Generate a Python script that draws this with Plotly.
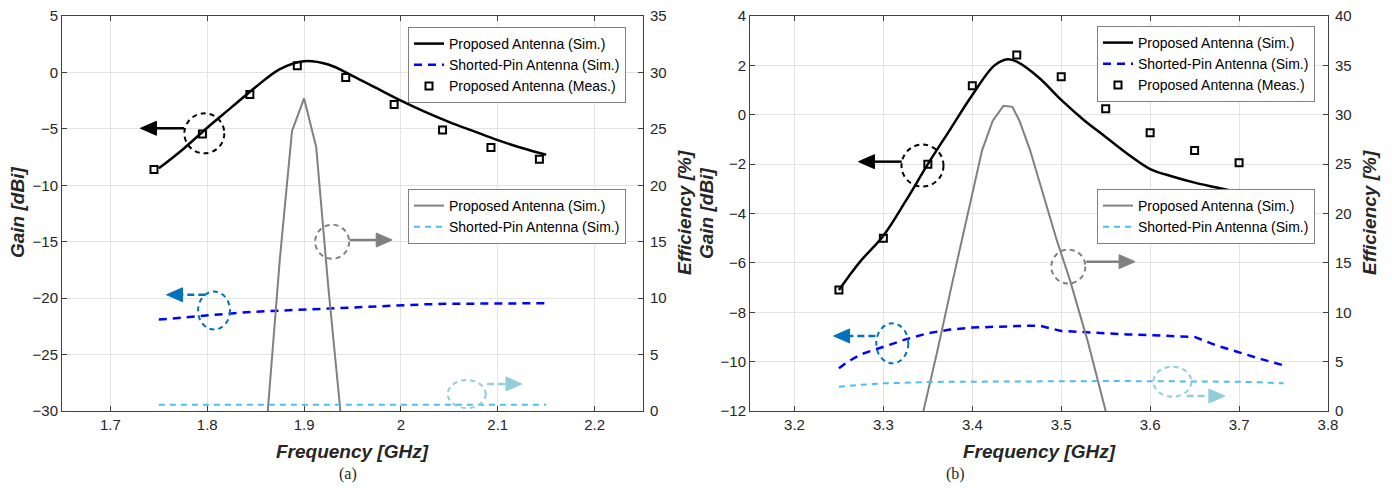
import plotly.graph_objects as go

# ---------------- data: panel (a) ----------------
a_freq_sim = [1.75, 1.775, 1.8, 1.825, 1.85, 1.875, 1.9, 1.925, 1.95, 1.975, 2.0,
              2.025, 2.05, 2.075, 2.1, 2.125, 2.15]
a_gain_prop_sim = [-8.5, -6.8, -4.9, -3.1, -1.3, 0.3, 1.0, 0.7, -0.3, -1.4, -2.5,
                   -3.5, -4.4, -5.2, -6.0, -6.7, -7.3]
a_gain_pin_sim = [-21.9, -21.7, -21.5, -21.35, -21.2, -21.1, -21.0, -20.9, -20.8, -20.7, -20.6,
                  -20.55, -20.5, -20.5, -20.45, -20.45, -20.45]
a_freq_meas = [1.745, 1.795, 1.844, 1.893, 1.943, 1.993, 2.043, 2.093, 2.143]
a_gain_meas = [-8.6, -5.45, -1.95, 0.6, -0.45, -2.85, -5.1, -6.65, -7.7]
a_freq_eff_prop = [1.8625, 1.875, 1.8875, 1.9, 1.9125, 1.925, 1.9375]
a_eff_prop = [0.0, 13.5, 24.8, 27.7, 23.4, 11.0, 0.0]
a_eff_pin = [0.55] * len(a_freq_sim)

# ---------------- data: panel (b) ----------------
b_freq_sim = [3.25, 3.26, 3.275, 3.3, 3.325, 3.35, 3.375, 3.4, 3.425, 3.44, 3.45, 3.475,
              3.5, 3.525, 3.55, 3.575, 3.6, 3.625, 3.65, 3.675, 3.7, 3.725, 3.75]
b_gain_prop_sim = [-7.1, -6.6, -5.9, -4.9, -3.5, -2.0, -0.6, 0.8, 2.0, 2.25, 2.15, 1.5,
                   0.6, -0.2, -0.9, -1.6, -2.2, -2.5, -2.75, -2.95, -3.15, -3.35, -3.5]
b_gain_pin_sim = [-10.27, -10.0, -9.7, -9.4, -9.1, -8.85, -8.7, -8.62, -8.58, -8.57, -8.56, -8.54,
                  -8.76, -8.8, -8.86, -8.9, -8.93, -8.95, -9.0, -9.35, -9.64, -9.9, -10.15]
b_freq_meas = [3.25, 3.3, 3.35, 3.4, 3.45, 3.5, 3.55, 3.6, 3.65, 3.7]
b_gain_meas = [-7.1, -5.0, -2.0, 1.17, 2.42, 1.54, 0.24, -0.73, -1.45, -1.94]
b_freq_eff_prop = [3.345, 3.36, 3.378, 3.395, 3.411, 3.423, 3.435, 3.445, 3.453, 3.465,
                   3.48, 3.495, 3.51, 3.53, 3.55]
b_eff_prop = [0.0, 5.8, 13.2, 20.0, 26.4, 29.4, 30.9, 30.8, 29.4, 26.4,
              21.8, 17.3, 13.2, 7.0, 0.0]
b_eff_pin = [2.45, 2.55, 2.65, 2.8, 2.88, 2.93, 2.96, 2.98, 3.0, 3.01, 3.02, 3.02,
             3.03, 3.03, 3.03, 3.03, 3.03, 3.02, 3.0, 2.98, 2.96, 2.9, 2.8]

# tick values
a_xticks = [1.7, 1.8, 1.9, 2.0, 2.1, 2.2]
a_xticktext = ["1.7", "1.8", "1.9", "2", "2.1", "2.2"]
a_yticks = [-30, -25, -20, -15, -10, -5, 0, 5]
a_y2ticks = [0, 5, 10, 15, 20, 25, 30, 35]
b_xticks = [3.2, 3.3, 3.4, 3.5, 3.6, 3.7, 3.8]
b_yticks = [-12, -10, -8, -6, -4, -2, 0, 2, 4]
b_y2ticks = [0, 5, 10, 15, 20, 25, 30, 35, 40]

# ---------------- layout geometry (target screen pixels) ----------------
W, H = 1392, 492
OFF = 8  # page body margin of the html page
TOP, BOT = 16, 411
PANELS = {
    "a": dict(l=62, r=643, xr=[1.65, 2.25], yr=[-30, 5], y2r=[0, 35]),
    "b": dict(l=750, r=1328, xr=[3.15, 3.8], yr=[-12, 4], y2r=[0, 40]),
}

BLACK = "#000000"
BLUE = "#0000FF"
GRAY = "#808080"
LBLUE = "#4DBEEE"
ANN_BLUE = "#0072BD"
ANN_LBLUE = "#92CDDC"
AXC = "#404040"
FONT = "Liberation Sans, Arial, sans-serif"


def px(panel, x, y, right=False):
    p = PANELS[panel]
    xp = p["l"] + (x - p["xr"][0]) / (p["xr"][1] - p["xr"][0]) * (p["r"] - p["l"])
    yr = p["y2r"] if right else p["yr"]
    yp = BOT - (y - yr[0]) / (yr[1] - yr[0]) * (BOT - TOP)
    return xp, yp


def pap(xp, yp):
    return (xp - OFF) / W, 1 - (yp - OFF) / H


fig = go.Figure()

# ---- panel (a) traces ----
fig.add_trace(go.Scatter(x=a_freq_sim, y=a_gain_prop_sim, mode="lines", name="Proposed Antenna (Sim.)",
                         line=dict(color=BLACK, width=2.5, shape="spline"), xaxis="x", yaxis="y", legend="legend"))
fig.add_trace(go.Scatter(x=a_freq_sim, y=a_gain_pin_sim, mode="lines", name="Shorted-Pin Antenna (Sim.)",
                         line=dict(color=BLUE, width=2.5, dash="8px,6px"), xaxis="x", yaxis="y", legend="legend"))
fig.add_trace(go.Scatter(x=a_freq_meas, y=a_gain_meas, mode="markers", name="Proposed Antenna (Meas.)",
                         marker=dict(symbol="square-open", size=7, color=BLACK, line=dict(width=2, color=BLACK)),
                         xaxis="x", yaxis="y", legend="legend"))
fig.add_trace(go.Scatter(x=a_freq_eff_prop, y=a_eff_prop, mode="lines", name="Proposed Antenna (Sim.)",
                         line=dict(color=GRAY, width=2), xaxis="x", yaxis="y2", legend="legend2"))
fig.add_trace(go.Scatter(x=a_freq_sim, y=a_eff_pin, mode="lines", name="Shorted-Pin Antenna (Sim.)",
                         line=dict(color=LBLUE, width=2, dash="6px,5px"), xaxis="x", yaxis="y2", legend="legend2"))

# ---- panel (b) traces ----
fig.add_trace(go.Scatter(x=b_freq_sim, y=b_gain_prop_sim, mode="lines", name="Proposed Antenna (Sim.)",
                         line=dict(color=BLACK, width=2.5, shape="spline"), xaxis="x2", yaxis="y3", legend="legend3"))
fig.add_trace(go.Scatter(x=b_freq_sim, y=b_gain_pin_sim, mode="lines", name="Shorted-Pin Antenna (Sim.)",
                         line=dict(color=BLUE, width=2.5, dash="8px,6px"), xaxis="x2", yaxis="y3", legend="legend3"))
fig.add_trace(go.Scatter(x=b_freq_meas, y=b_gain_meas, mode="markers", name="Proposed Antenna (Meas.)",
                         marker=dict(symbol="square-open", size=7, color=BLACK, line=dict(width=2, color=BLACK)),
                         xaxis="x2", yaxis="y3", legend="legend3"))
fig.add_trace(go.Scatter(x=b_freq_eff_prop, y=b_eff_prop, mode="lines", name="Proposed Antenna (Sim.)",
                         line=dict(color=GRAY, width=2), xaxis="x2", yaxis="y4", legend="legend4"))
fig.add_trace(go.Scatter(x=b_freq_sim, y=b_eff_pin, mode="lines", name="Shorted-Pin Antenna (Sim.)",
                         line=dict(color=LBLUE, width=2, dash="6px,5px"), xaxis="x2", yaxis="y4", legend="legend4"))

# ---- axes ----
ydom = [1 - (BOT - OFF) / H, 1 - (TOP - OFF) / H]
common = dict(showline=True, linecolor=AXC, linewidth=1, ticks="inside", ticklen=5, tickcolor=AXC,
              tickfont=dict(family=FONT, size=15, color="#262626"), zeroline=False, automargin=False,
              ticklabeloverflow="allow")


def xax(panel, tickvals, ticktext=None):
    p = PANELS[panel]
    d = dict(common, domain=[(p["l"] - OFF) / W, (p["r"] - OFF) / W], range=p["xr"], tickvals=tickvals,
             showgrid=True, gridcolor="#E3E3E3", gridwidth=1, mirror="ticks")
    if ticktext:
        d["ticktext"] = ticktext
    return d


def yax(panel, tickvals, right=False, anchor="x", overlay=None):
    p = PANELS[panel]
    d = dict(common, domain=ydom, range=p["y2r"] if right else p["yr"], tickvals=tickvals, anchor=anchor)
    if right:
        d.update(side="right", showgrid=False, overlaying=overlay, ticklabelstandoff=3)
    else:
        d.update(showgrid=True, gridcolor="#E3E3E3", gridwidth=1)
    return d


fig.update_layout(
    xaxis=xax("a", a_xticks, a_xticktext),
    yaxis=yax("a", a_yticks, anchor="x"),
    yaxis2=yax("a", a_y2ticks, right=True, anchor="x", overlay="y"),
    xaxis2=xax("b", b_xticks),
    yaxis3=yax("b", b_yticks, anchor="x2"),
    yaxis4=yax("b", b_y2ticks, right=True, anchor="x2", overlay="y3"),
)
fig.update_layout(xaxis=dict(anchor="y"), xaxis2=dict(anchor="y3"))

# ---- legends ----
def leg(xp, yp):
    xx, yy = pap(xp, yp)
    return dict(x=xx, y=yy, xanchor="left", yanchor="top", bgcolor="white", bordercolor="#808080",
                borderwidth=1, font=dict(family=FONT, size=14, color="#000000"),
                tracegroupgap=0, itemwidth=30)


fig.update_layout(legend=leg(408, 27), legend2=leg(408, 189), legend3=leg(1097, 26), legend4=leg(1097, 189))

# ---- annotations: circles and arrows ----
shapes = []
annotations = []


def ellipse(panel, cx, cy, rx, ry, color, right=False, width=2):
    xp, yp = px(panel, cx, cy, right)
    x0, y0 = pap(xp - rx, yp + ry)
    x1, y1 = pap(xp + rx, yp - ry)
    shapes.append(dict(type="circle", xref="paper", yref="paper", x0=x0, y0=y0, x1=x1, y1=y1,
                       line=dict(color=color, width=width, dash="5px,4px")))


def arrow(panel, x_start, x_end, y, color, right=False, dashed=False):
    xs, ys = px(panel, x_start, y, right)
    xe, ye = px(panel, x_end, y, right)
    direction = 1 if xe > xs else -1
    head_len, half_w = 16, 7
    xb = xe - direction * head_len
    a0 = pap(xs, ys)
    a1 = pap(xb, ye)
    shapes.append(dict(type="line", xref="paper", yref="paper", x0=a0[0], y0=a0[1], x1=a1[0], y1=a1[1],
                       line=dict(color=color, width=2.5, dash="7px,4px" if dashed else "solid")))
    p1 = pap(xe, ye)
    p2 = pap(xb, ye - half_w)
    p3 = pap(xb, ye + half_w)
    path = f"M {p1[0]} {p1[1]} L {p2[0]} {p2[1]} L {p3[0]} {p3[1]} Z"
    shapes.append(dict(type="path", xref="paper", yref="paper", path=path,
                       fillcolor=color, line=dict(color=color, width=1)))


# panel (a)
ellipse("a", 1.797, -5.4, 20, 20, BLACK)
arrow("a", 1.776, 1.731, -4.95, BLACK)
ellipse("a", 1.929, -15.0, 17, 17, GRAY)
arrow("a", 1.947, 1.991, -14.85, GRAY)
ellipse("a", 1.807, -21.1, 16, 19, ANN_BLUE)
arrow("a", 1.798, 1.758, -19.7, ANN_BLUE, dashed=True)
ellipse("a", 2.068, 1.5, 19, 14, ANN_LBLUE, right=True)
arrow("a", 2.089, 2.125, 2.4, ANN_LBLUE, right=True, dashed=True)

# panel (b)
ellipse("b", 3.344, -2.06, 21, 21, BLACK)
arrow("b", 3.3206, 3.272, -1.9, BLACK)
ellipse("b", 3.508, -6.15, 17, 17, GRAY)
arrow("b", 3.528, 3.583, -5.95, GRAY)
ellipse("b", 3.31, -9.26, 16, 20, ANN_BLUE)
arrow("b", 3.291, 3.244, -8.96, ANN_BLUE, dashed=True)
ellipse("b", 3.625, 2.97, 19, 15, ANN_LBLUE, right=True)
arrow("b", 3.641, 3.684, 1.52, ANN_LBLUE, right=True, dashed=True)

# ---- titles & captions as text ----
def text(xp, yp, s, size=19, angle=0, family=FONT):
    xx, yy = pap(xp, yp)
    annotations.append(dict(x=xx, y=yy, xref="paper", yref="paper", text=s, showarrow=False,
                            textangle=angle, xanchor="center", yanchor="middle",
                            font=dict(family=family, size=size, color="#262626")))


text(17, 213, "<b><i>Gain [dBi]</i></b>", angle=-90)
text(684, 213, "<b><i>Efficiency [%]</i></b>", angle=-90)
text(352, 451, "<b><i>Frequency [GHz]</i></b>")
text(706, 213, "<b><i>Gain [dBi]</i></b>", angle=-90)
text(1369, 213, "<b><i>Efficiency [%]</i></b>", angle=-90)
text(1039, 451, "<b><i>Frequency [GHz]</i></b>")
text(348, 474, "(a)", size=16, family="Liberation Serif, Times New Roman, serif")
text(955, 474, "(b)", size=16, family="Liberation Serif, Times New Roman, serif")

fig.update_layout(shapes=shapes, annotations=annotations, width=W, height=H,
                  margin=dict(l=0, r=0, t=0, b=0, autoexpand=False), plot_bgcolor="white",
                  paper_bgcolor="white", showlegend=True)

fig.write_html("out.html")
